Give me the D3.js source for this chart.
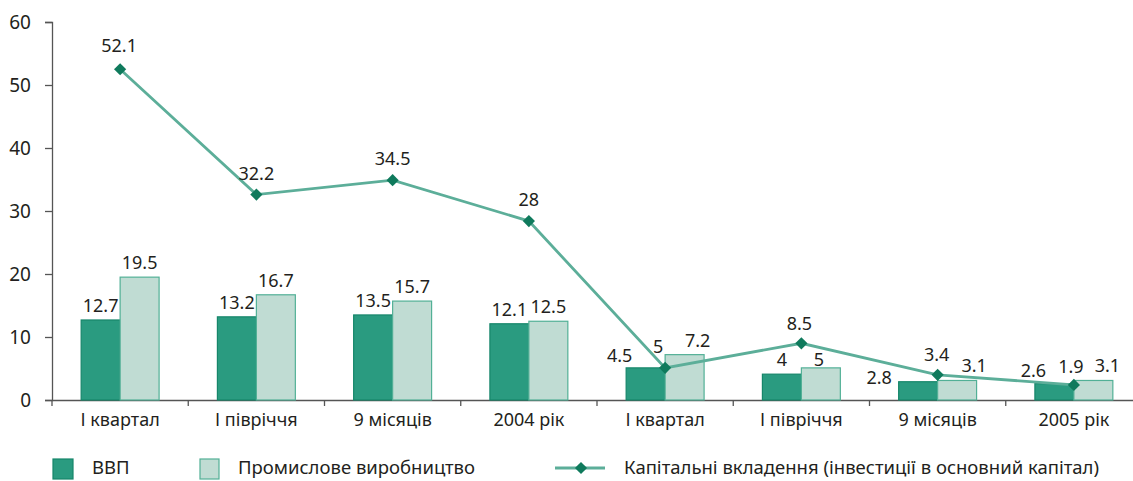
<!DOCTYPE html>
<html>
<head>
<meta charset="utf-8">
<script src="https://cdn.jsdelivr.net/npm/d3@7"></script>
<style>
  body { margin: 0; background: #fff; }
  text { font-family: "Noto Sans", sans-serif; fill: #231f20; }
</style>
</head>
<body>
<script>
// data (marks where drawn, labels as printed)
var categories = ["І квартал", "І півріччя", "9 місяців", "2004 рік", "І квартал", "І півріччя", "9 місяців", "2005 рік"];
var gdp = [12.7, 13.2, 13.5, 12.1, 5.1, 4.1, 2.9, 2.6];
var industry = [19.5, 16.7, 15.7, 12.5, 7.2, 5.1, 3.1, 3.1];
var investment = [52.5, 32.6, 34.9, 28.4, 5.1, 9.0, 4.0, 2.4];
var gdpLabels = ["12.7", "13.2", "13.5", "12.1", "4.5", "4", "2.8", "2.6"];
var industryLabels = ["19.5", "16.7", "15.7", "12.5", "7.2", "5", "3.1", "3.1"];
var investmentLabels = ["52.1", "32.2", "34.5", "28", "5", "8.5", "3.4", "1.9"];
var yTicks = [0, 10, 20, 30, 40, 50, 60];
var seriesNames = ["ВВП", "Промислове виробництво", "Капітальні вкладення (інвестиції в основний капітал)"];

var width = 1133, height = 481;
var darkFill = "#2a9b80", darkStroke = "#16866a";
var lightFill = "#c0dcd3", lightStroke = "#52b096";
var lineColor = "#5cae99", markerColor = "#0f7a5c";

var svg = d3.select("body").append("svg")
    .attr("width", width)
    .attr("height", height);

var idx = d3.range(categories.length);
var x = d3.scaleBand().domain(idx).range([52, 1142]).padding(0);
var y = d3.scaleLinear().domain([0, 60]).range([400, 22]);
var barW = x.bandwidth() * 0.286;

// axes
var yAxis = svg.append("g")
    .attr("transform", "translate(52,0)")
    .call(d3.axisLeft(y).tickValues(yTicks).tickSize(7).tickPadding(14));
yAxis.select(".domain").attr("stroke", "#555").attr("stroke-width", 1.3);
yAxis.selectAll(".tick line").attr("stroke", "#555").attr("stroke-width", 1.3);
yAxis.selectAll("text").style("font-size", "19px").attr("fill", "#231f20");

var xAxis = svg.append("g")
    .attr("transform", "translate(0,400)")
    .call(d3.axisBottom(x).tickSize(0).tickPadding(13).tickFormat(function (i) { return categories[i]; }));
xAxis.select(".domain").attr("stroke", "#555").attr("stroke-width", 1.3);
xAxis.selectAll("text").style("font-size", "18px").attr("fill", "#231f20");
// boundary ticks between categories
xAxis.selectAll("line.sep").data(idx.concat([idx.length])).enter().append("line")
    .attr("class", "sep")
    .attr("x1", function (i) { return 52 + i * x.step(); })
    .attr("x2", function (i) { return 52 + i * x.step(); })
    .attr("y1", 0).attr("y2", 6)
    .attr("stroke", "#555").attr("stroke-width", 1.3);

// bars
var groups = svg.selectAll("g.cat").data(idx).enter().append("g").attr("class", "cat");
groups.append("rect")
    .attr("x", function (i) { return x(i) + x.bandwidth() / 2 - barW; })
    .attr("y", function (i) { return y(gdp[i]); })
    .attr("width", barW)
    .attr("height", function (i) { return y(0) - y(gdp[i]); })
    .attr("fill", darkFill).attr("stroke", darkStroke).attr("stroke-width", 1.2);
groups.append("rect")
    .attr("x", function (i) { return x(i) + x.bandwidth() / 2; })
    .attr("y", function (i) { return y(industry[i]); })
    .attr("width", barW)
    .attr("height", function (i) { return y(0) - y(industry[i]); })
    .attr("fill", lightFill).attr("stroke", lightStroke).attr("stroke-width", 1.2);

// line
var cx = function (i) { return x(i) + x.bandwidth() / 2; };
var line = d3.line().x(function (d, i) { return cx(i); }).y(function (d) { return y(d); });
svg.append("path").datum(investment)
    .attr("d", line)
    .attr("fill", "none").attr("stroke", lineColor).attr("stroke-width", 2.8);
var diamond = d3.symbol().type(d3.symbolDiamond2).size(95);
svg.selectAll("path.mk").data(investment).enter().append("path")
    .attr("class", "mk")
    .attr("d", diamond)
    .attr("transform", function (d, i) { return "translate(" + cx(i) + "," + y(d) + ")"; })
    .attr("fill", markerColor);

// value labels; nudges where labels would collide
var gdpNudge = { 4: [-26, 2], 6: [-39, 10], 7: [-21, 1] };
var indNudge = { 4: [13, 0], 5: [-2, 6], 6: [17, 0], 7: [14, 0] };
var invNudge = { 0: [-1, -2], 4: [-7, 0], 5: [-2, 2], 6: [-1, 1], 7: [-3, 3] };
function label(vals, texts, offX, nudge, lift) {
    svg.append("g").selectAll("text").data(vals).enter().append("text")
        .attr("x", function (d, i) { return cx(i) + offX + (nudge[i] ? nudge[i][0] : 0); })
        .attr("y", function (d, i) { return y(d) - lift + (nudge[i] ? nudge[i][1] : 0); })
        .attr("text-anchor", "middle")
        .attr("dominant-baseline", "central")
        .style("font-size", "18px")
        .text(function (d, i) { return texts[i]; });
}
label(gdp, gdpLabels, -barW / 2, gdpNudge, 15);
label(industry, industryLabels, barW / 2, indNudge, 15);
label(investment, investmentLabels, 0, invNudge, 22);

// legend
var lg = svg.append("g");
lg.append("rect").attr("x", 53).attr("y", 459).attr("width", 20).attr("height", 20)
    .attr("fill", darkFill).attr("stroke", darkStroke).attr("stroke-width", 1.2);
lg.append("text").attr("x", 92).attr("y", 466).attr("dominant-baseline", "central")
    .style("font-size", "18.5px").text(seriesNames[0]);
lg.append("rect").attr("x", 200).attr("y", 459).attr("width", 19).attr("height", 20)
    .attr("fill", lightFill).attr("stroke", lightStroke).attr("stroke-width", 1.2);
lg.append("text").attr("x", 238).attr("y", 466).attr("dominant-baseline", "central")
    .style("font-size", "18.5px").text(seriesNames[1]);
lg.append("line").attr("x1", 555).attr("x2", 605).attr("y1", 468).attr("y2", 468)
    .attr("stroke", lineColor).attr("stroke-width", 2.8);
lg.append("path").attr("d", diamond).attr("transform", "translate(581,468)").attr("fill", markerColor);
lg.append("text").attr("x", 624).attr("y", 466).attr("dominant-baseline", "central")
    .style("font-size", "18.5px").text(seriesNames[2]);
</script>
</body>
</html>
